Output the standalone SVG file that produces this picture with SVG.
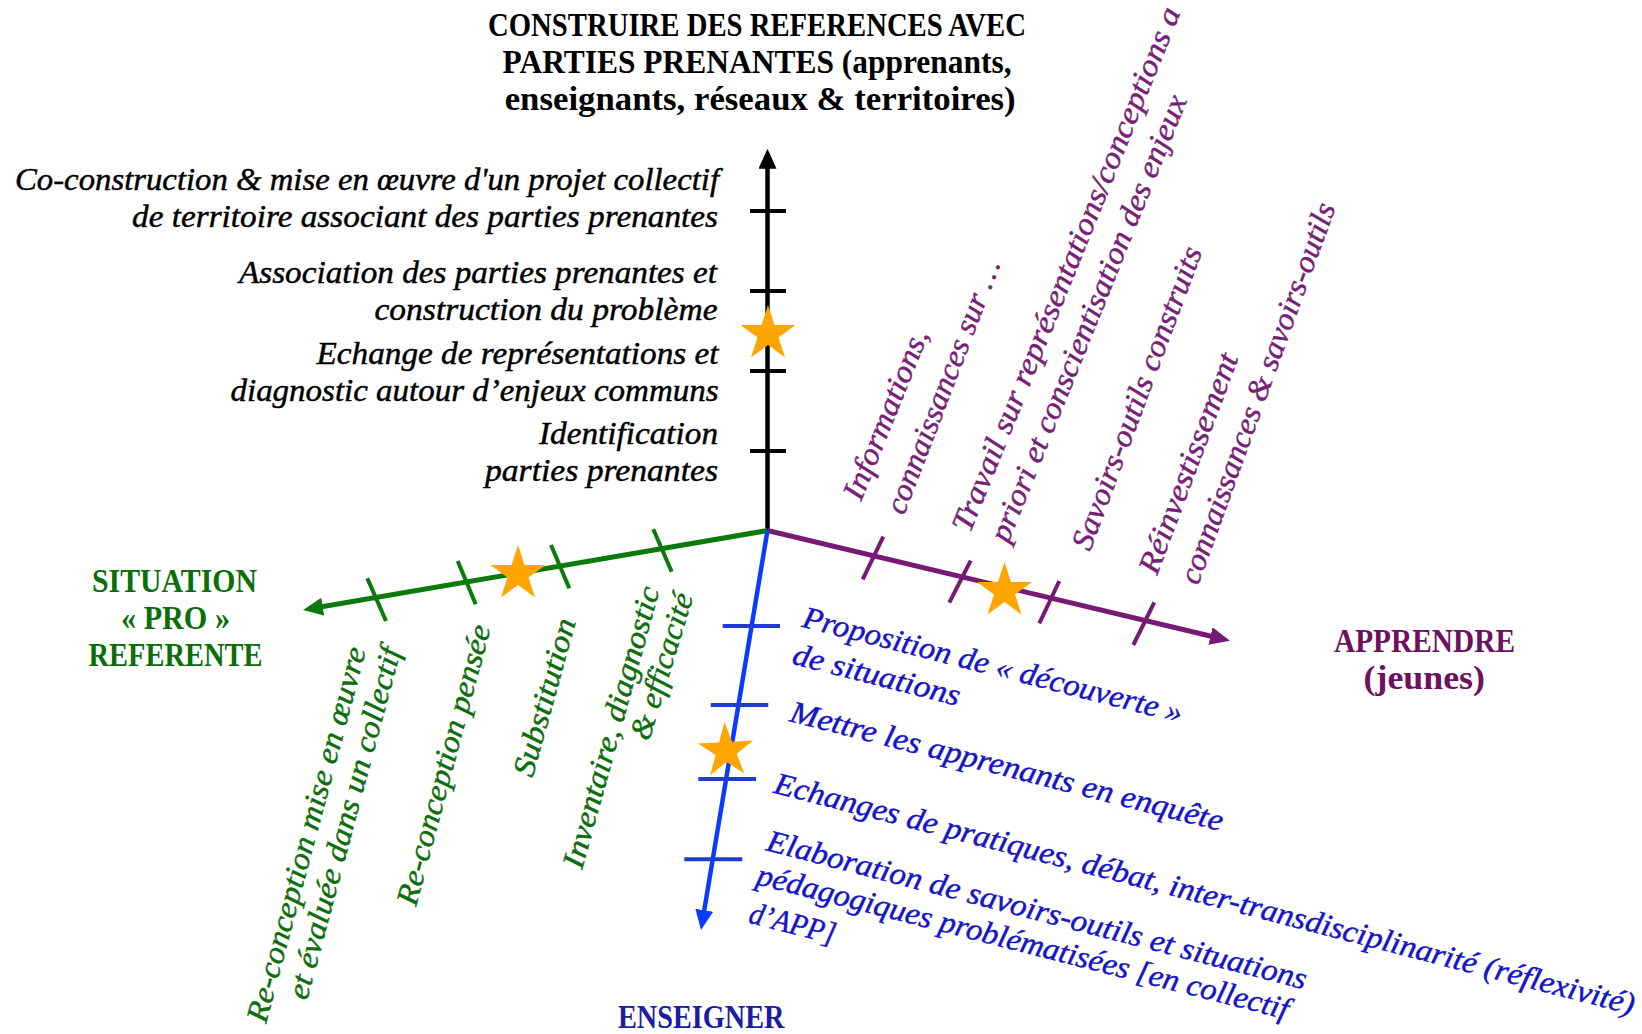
<svg xmlns="http://www.w3.org/2000/svg" xmlns:xlink="http://www.w3.org/1999/xlink" width="1642" height="1034" viewBox="0 0 1642 1034">
  <style>
    .lbl { font-family: "Liberation Serif", "Times New Roman", serif; font-style: italic; font-size: 31px; stroke-width: 0.45px; }
    .head { font-family: "Liberation Serif", "Times New Roman", serif; font-weight: bold; font-size: 34px; }
    .k { fill: #000000; stroke: #000000; }
    .g { fill: #0b6e0b; stroke: #0b6e0b; }
    .p { fill: #771f77; stroke: #771f77; }
    .b { fill: #1414c8; stroke: #1414c8; }
    .head.k, .head.g { stroke: none; }
    .axis { fill: none; stroke-linecap: butt; }
    .tick { fill: none; stroke-width: 4; stroke-linecap: butt; }
    .star { fill: #FFA500; }
  </style>
  <defs>
    <marker id="ah-k" markerUnits="userSpaceOnUse" markerWidth="20" markerHeight="18" refX="4" refY="9" orient="auto"><path d="M0,0 L20,9 L0,18 z" fill="#000000"/></marker>
    <marker id="ah-g" markerUnits="userSpaceOnUse" markerWidth="20" markerHeight="18" refX="4" refY="9" orient="auto"><path d="M0,0 L20,9 L0,18 z" fill="#0b7a0b"/></marker>
    <marker id="ah-p" markerUnits="userSpaceOnUse" markerWidth="20" markerHeight="18" refX="4" refY="9" orient="auto"><path d="M0,0 L20,9 L0,18 z" fill="#761a76"/></marker>
    <marker id="ah-b" markerUnits="userSpaceOnUse" markerWidth="20" markerHeight="18" refX="4" refY="9" orient="auto"><path d="M0,0 L20,9 L0,18 z" fill="#0a3cff"/></marker>
    <!-- five-pointed star centred on 0,0 -->
    <path id="star" class="star" d="M0,-29 L6.5,-8.95 L27.58,-8.96 L10.53,3.42 L17.05,23.46 L0,11.06 L-17.05,23.46 L-10.53,3.42 L-27.58,-8.96 L-6.5,-8.95 Z"/>
  </defs>

  <!-- axes and their graduations -->
  <g id="connectors">
    <line class="axis" x1="767.5" y1="530.5" x2="767.5" y2="164.7" stroke="#000000" stroke-width="4.5" marker-end="url(#ah-k)"/>
    <line class="axis" x1="767.5" y1="530.5" x2="318.8" y2="607.3" stroke="#0b7a0b" stroke-width="5" marker-end="url(#ah-g)"/>
    <line class="axis" x1="767.5" y1="530.5" x2="1214.4" y2="637" stroke="#761a76" stroke-width="5" marker-end="url(#ah-p)"/>
    <line class="axis" x1="767.5" y1="530.5" x2="703.6" y2="914.2" stroke="#0a3cff" stroke-width="4.5" marker-end="url(#ah-b)"/>

    <g stroke="#000000" class="tick">
      <line x1="750" y1="211" x2="786" y2="211"/>
      <line x1="750" y1="291" x2="786" y2="291"/>
      <line x1="750" y1="371" x2="786" y2="371"/>
      <line x1="750" y1="451" x2="786" y2="451"/>
    </g>
    <g stroke="#0b7a0b" class="tick">
      <line x1="367.3" y1="578.3" x2="386" y2="621"/>
      <line x1="457.7" y1="561" x2="475.7" y2="604.3"/>
      <line x1="551" y1="545" x2="569.3" y2="588.3"/>
      <line x1="653.3" y1="529.3" x2="671.7" y2="571.7"/>
    </g>
    <g stroke="#761a76" class="tick">
      <line x1="883.3" y1="536.7" x2="862.7" y2="579.3"/>
      <line x1="970.7" y1="560.7" x2="949.3" y2="602.7"/>
      <line x1="1059.3" y1="581" x2="1039.3" y2="623.3"/>
      <line x1="1154.3" y1="602.3" x2="1133.3" y2="645"/>
    </g>
    <g stroke="#1e3cd0" class="tick">
      <line x1="722.7" y1="626" x2="780" y2="626"/>
      <line x1="710.7" y1="705" x2="768.3" y2="705"/>
      <line x1="698.3" y1="779" x2="756" y2="779"/>
      <line x1="684.3" y1="859.3" x2="742.3" y2="859.3"/>
    </g>
  </g>

  <!-- stars marking positions on each axis -->
  <g id="stars">
    <use xlink:href="#star" x="768" y="334"/>
    <use xlink:href="#star" x="518" y="574"/>
    <use xlink:href="#star" x="1004.5" y="591"/>
    <use xlink:href="#star" x="726" y="751" transform="rotate(-3 726 751)"/>
  </g>

  <!-- axis titles -->
  <g id="title-construire" class="head k">
    <text x="488" y="36" textLength="538" lengthAdjust="spacingAndGlyphs">CONSTRUIRE DES REFERENCES AVEC</text>
    <text x="502.6" y="73" textLength="509" lengthAdjust="spacingAndGlyphs">PARTIES PRENANTES (apprenants,</text>
    <text x="504.7" y="110" textLength="511" lengthAdjust="spacingAndGlyphs">enseignants, réseaux &amp; territoires)</text>
  </g>
  <g id="title-situation" class="head g">
    <text x="92" y="591.5" textLength="165" lengthAdjust="spacingAndGlyphs">SITUATION</text>
    <text x="121" y="628.5" textLength="109" lengthAdjust="spacingAndGlyphs">« PRO »</text>
    <text x="88.5" y="666" textLength="174" lengthAdjust="spacingAndGlyphs">REFERENTE</text>
  </g>
  <g id="title-apprendre" class="head" fill="#6e105f">
    <text x="1334" y="652" textLength="181" lengthAdjust="spacingAndGlyphs">APPRENDRE</text>
    <text x="1363.5" y="689" textLength="121.5" lengthAdjust="spacingAndGlyphs">(jeunes)</text>
  </g>
  <g id="title-enseigner" class="head" fill="#1c1ca0">
    <text x="618" y="1028" textLength="166.5" lengthAdjust="spacingAndGlyphs">ENSEIGNER</text>
  </g>

  <!-- graduations of the vertical axis -->
  <g id="k1" class="lbl k">
    <text x="15" y="190" textLength="704" lengthAdjust="spacingAndGlyphs">Co-construction &amp; mise en œuvre d'un projet collectif</text>
    <text x="132" y="227" textLength="586" lengthAdjust="spacingAndGlyphs">de territoire associant des parties prenantes</text>
  </g>
  <g id="k2" class="lbl k">
    <text x="239" y="283" textLength="478" lengthAdjust="spacingAndGlyphs">Association des parties prenantes et</text>
    <text x="374.5" y="320" textLength="343" lengthAdjust="spacingAndGlyphs">construction du problème</text>
  </g>
  <g id="k3" class="lbl k">
    <text x="316.5" y="364" textLength="402" lengthAdjust="spacingAndGlyphs">Echange de représentations et</text>
    <text x="230.5" y="401" textLength="488" lengthAdjust="spacingAndGlyphs">diagnostic autour d’enjeux communs</text>
  </g>
  <g id="k4" class="lbl k">
    <text x="539" y="444" textLength="179" lengthAdjust="spacingAndGlyphs">Identification</text>
    <text x="485" y="481" textLength="233" lengthAdjust="spacingAndGlyphs">parties prenantes</text>
  </g>

  <!-- graduations of the APPRENDRE axis -->
  <g id="p1" class="lbl p">
    <text transform="translate(861 502) rotate(-68)" textLength="181" lengthAdjust="spacingAndGlyphs">Informations,</text>
    <text transform="translate(904 516) rotate(-69)" textLength="270" lengthAdjust="spacingAndGlyphs">connaissances sur …</text>
  </g>
  <g id="p2" class="lbl p">
    <text transform="translate(970 534) rotate(-68)" textLength="563" lengthAdjust="spacingAndGlyphs">Travail sur représentations/conceptions a</text>
    <text transform="translate(1008 544) rotate(-68)" textLength="479" lengthAdjust="spacingAndGlyphs">priori et conscientisation des enjeux</text>
  </g>
  <g id="p3" class="lbl p">
    <text transform="translate(1090 552) rotate(-69.5)" textLength="321" lengthAdjust="spacingAndGlyphs">Savoirs-outils construits</text>
  </g>
  <g id="p4" class="lbl p">
    <text transform="translate(1157 576) rotate(-69.5)" textLength="233" lengthAdjust="spacingAndGlyphs">Réinvestissement</text>
    <text transform="translate(1198 586) rotate(-70)" textLength="403" lengthAdjust="spacingAndGlyphs">connaissances &amp; savoirs-outils</text>
  </g>

  <!-- graduations of the SITUATION axis -->
  <g id="g1" class="lbl g">
    <text transform="translate(266 1024) rotate(-75)" textLength="387" lengthAdjust="spacingAndGlyphs">Re-conception mise en œuvre</text>
    <text transform="translate(307 1001) rotate(-75)" textLength="363" lengthAdjust="spacingAndGlyphs">et évaluée dans un collectif</text>
  </g>
  <g id="g2" class="lbl g">
    <text transform="translate(416 907) rotate(-75)" textLength="289" lengthAdjust="spacingAndGlyphs">Re-conception pensée</text>
  </g>
  <g id="g3" class="lbl g">
    <text transform="translate(532.5 778.3) rotate(-74.5)" textLength="162.5" lengthAdjust="spacingAndGlyphs">Substitution</text>
  </g>
  <g id="g4" class="lbl g">
    <text transform="translate(582 870) rotate(-74.5)" textLength="290.7" lengthAdjust="spacingAndGlyphs">Inventaire, diagnostic</text>
    <text transform="translate(649 741.7) rotate(-73)" textLength="151.8" lengthAdjust="spacingAndGlyphs">&amp; efficacité</text>
  </g>

  <!-- graduations of the ENSEIGNER axis -->
  <g id="b1" class="lbl b">
    <text transform="translate(801 626.5) rotate(14.3)" textLength="391" lengthAdjust="spacingAndGlyphs">Proposition de « découverte »</text>
    <text transform="translate(791 663.5) rotate(14.3)" textLength="171.7" lengthAdjust="spacingAndGlyphs">de situations</text>
  </g>
  <g id="b2" class="lbl b">
    <text transform="translate(788.5 721) rotate(14.3)" textLength="445.7" lengthAdjust="spacingAndGlyphs">Mettre les apprenants en enquête</text>
  </g>
  <g id="b3" class="lbl b">
    <text transform="translate(772.6 792.4) rotate(14.5)" textLength="887.5" lengthAdjust="spacingAndGlyphs">Echanges de pratiques, débat, inter-transdisciplinarité (réflexivité)</text>
  </g>
  <g id="b4" class="lbl b">
    <text transform="translate(765 850) rotate(14.5)" textLength="556.6" lengthAdjust="spacingAndGlyphs">Elaboration de savoirs-outils et situations</text>
    <text transform="translate(755 884) rotate(14.3)" textLength="548" lengthAdjust="spacingAndGlyphs">pédagogiques problématisées [en collectif</text>
    <text transform="translate(747.5 922.5) rotate(14.3)" textLength="88" lengthAdjust="spacingAndGlyphs">d’APP]</text>
  </g>
</svg>
